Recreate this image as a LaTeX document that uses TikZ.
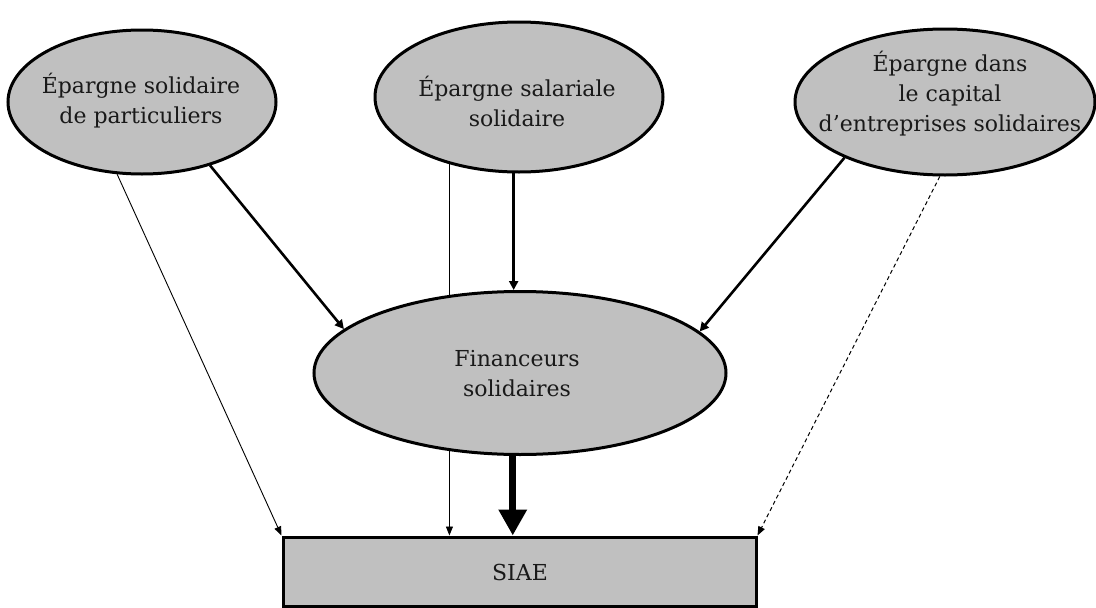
\documentclass[tikz,border=0pt]{standalone}
\usepackage{fontspec}
\setmainfont{DejaVu Serif}
\usetikzlibrary{shapes.geometric,arrows.meta,backgrounds}
\definecolor{boxgray}{RGB}{192,192,192}
\tikzset{
  oval/.style={ellipse, draw=black, fill=boxgray, line width=3pt, inner sep=0pt},
  siaebox/.style={rectangle, draw=black, fill=boxgray, line width=3pt, inner sep=0pt},
  lbl/.style={align=center, font=\fontsize{22}{30}\selectfont, text=black!90},
  thinarr/.style={line width=0.9pt, -{Triangle[length=9pt,width=7pt]}},
  thickarr/.style={line width=2.6pt, -{Triangle[length=9pt,width=9pt]}},
  bigarr/.style={line width=7pt, -{Triangle[length=26pt,width=27pt]}},
  dasharr/.style={line width=1pt, dash pattern=on 4pt off 3pt, -{Triangle[length=9pt,width=7pt]}}
}
\begin{document}
\begin{tikzpicture}[x=1pt,y=-1pt]
\useasboundingbox (0,0) rectangle (1096,608);
\node[oval, minimum width=268pt, minimum height=144pt] (L) at (142,102) {};
\node[oval, minimum width=288pt, minimum height=150pt] (M) at (519,97) {};
\node[oval, minimum width=300pt, minimum height=146pt] (R) at (945,102) {};
\node[oval, minimum width=412pt, minimum height=163pt] (F) at (520,373) {};
\node[siaebox, minimum width=473pt, minimum height=69pt] (S) at (519.5,571.5) {};

\node[lbl] (Lt) at (141,101) {Épargne solidaire\\de particuliers};
\node[lbl] (Mt) at (517,101) {Épargne salariale\\solidaire};
\node[lbl] (Rt) at (950,94) {Épargne dans\\le capital\\d’entreprises solidaires};
\node[lbl] (Ft) at (517,374) {Financeurs\\solidaires};
\node[lbl] (St) at (520,572) {SIAE};

\begin{scope}[on background layer]
  \draw[thinarr] (M.224) -- (M.224 |- S.north);
\end{scope}
\draw[thinarr] (L.251.6) -- (S.north west);
\draw[thickarr] (L.-43) -- (F.166);
\draw[thickarr] (M.266) -- (M.266 |- F.north);
\draw[thickarr] (R.209.6) -- (F.13.8);
\draw[dasharr] (R.266) -- (S.north east);
\draw[bigarr] (F.265.8) -- (F.265.8 |- S.north);
\end{tikzpicture}
\end{document}
